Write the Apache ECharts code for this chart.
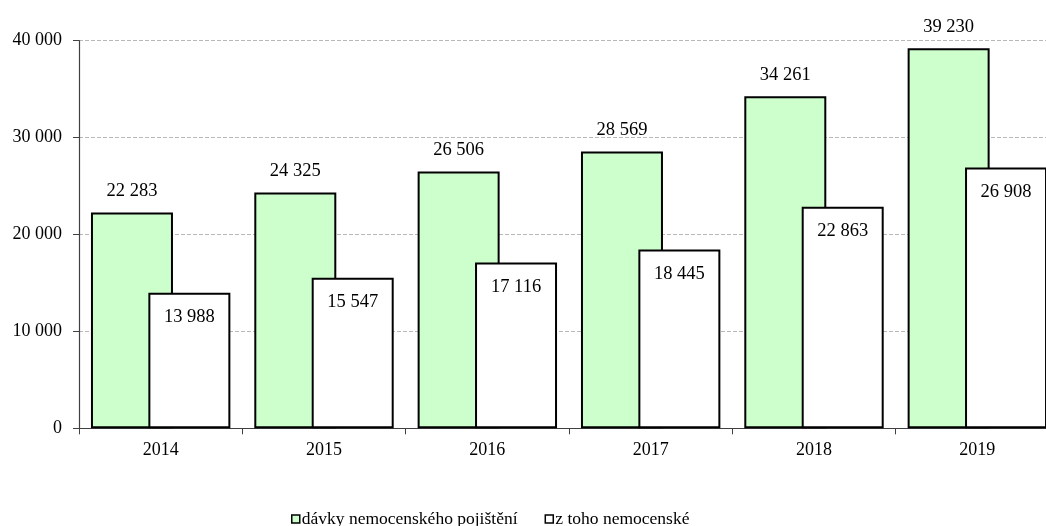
<!DOCTYPE html>
<html>
<head>
<meta charset="utf-8">
<script src="https://cdn.jsdelivr.net/npm/echarts@6/dist/echarts.min.js"></script>
<style>html,body{margin:0;padding:0;background:#fff}#c{width:1046px;height:526px}</style>
</head>
<body>
<div id="c"></div>
<script>
const categories = ['2014', '2015', '2016', '2017', '2018', '2019'];
const seriesNames = ['dávky nemocenského pojištění', 'z toho nemocenské'];
const benefits = [22283, 24325, 26506, 28569, 34261, 39230];
const sickness = [13988, 15547, 17116, 18445, 22863, 26908];
const yTicks = [0, 10000, 20000, 30000, 40000];

const fmt = v => String(v).replace(/\B(?=(\d{3})+(?!\d))/g, ' ');
const FONT = '"Liberation Serif", "Times New Roman", serif';

const chart = echarts.init(document.getElementById('c'), null, {renderer: 'canvas'});
chart.setOption({
  animation: false,
  backgroundColor: '#fff',
  textStyle: {fontFamily: FONT},
  grid: {left: 79, width: 980, top: 40.7, bottom: 97.7, containLabel: false, outerBoundsMode: 'none'},
  legend: {
    left: 286, top: 505,
    itemWidth: 8, itemHeight: 8, itemGap: 27,
    icon: 'rect',
    itemStyle: {borderColor: '#000', borderWidth: 1.5},
    textStyle: {fontFamily: FONT, fontSize: 17.5, color: '#000', padding: [0, 0, 0, -3]},
    data: seriesNames
  },
  xAxis: {
    type: 'category',
    data: categories,
    boundaryGap: true,
    axisLine: {lineStyle: {color: '#404040', width: 1.2}},
    axisTick: {show: true, length: 6, interval: 0, lineStyle: {color: '#404040'}},
    axisLabel: {fontFamily: FONT, fontSize: 18, color: '#000', margin: 13},
    splitLine: {show: false}
  },
  yAxis: {
    type: 'value',
    min: yTicks[0], max: yTicks[yTicks.length - 1], interval: 10000,
    axisLine: {show: true, lineStyle: {color: '#404040', width: 1.2}},
    axisTick: {show: true, length: 6, lineStyle: {color: '#404040'}},
    axisLabel: {fontFamily: FONT, fontSize: 18, color: '#000', margin: 17, formatter: v => fmt(v)},
    splitLine: {show: true, lineStyle: {color: '#b8b8b8', type: 'dashed', width: 1}}
  },
  series: [
    {
      name: seriesNames[0], type: 'bar', data: benefits,
      barWidth: 82, barGap: '-30%',
      itemStyle: {color: '#ccffcc', borderColor: '#000', borderWidth: 2},
      label: {show: true, position: 'top', distance: 12, fontFamily: FONT, fontSize: 18.5, color: '#000', formatter: p => fmt(p.value)}
    },
    {
      name: seriesNames[1], type: 'bar', data: sickness,
      barWidth: 82, barGap: '-30%',
      itemStyle: {color: '#ffffff', borderColor: '#000', borderWidth: 2},
      label: {show: true, position: 'insideTop', distance: 15, fontFamily: FONT, fontSize: 18.5, color: '#000', formatter: p => fmt(p.value)}
    }
  ]
});
</script>
</body>
</html>
